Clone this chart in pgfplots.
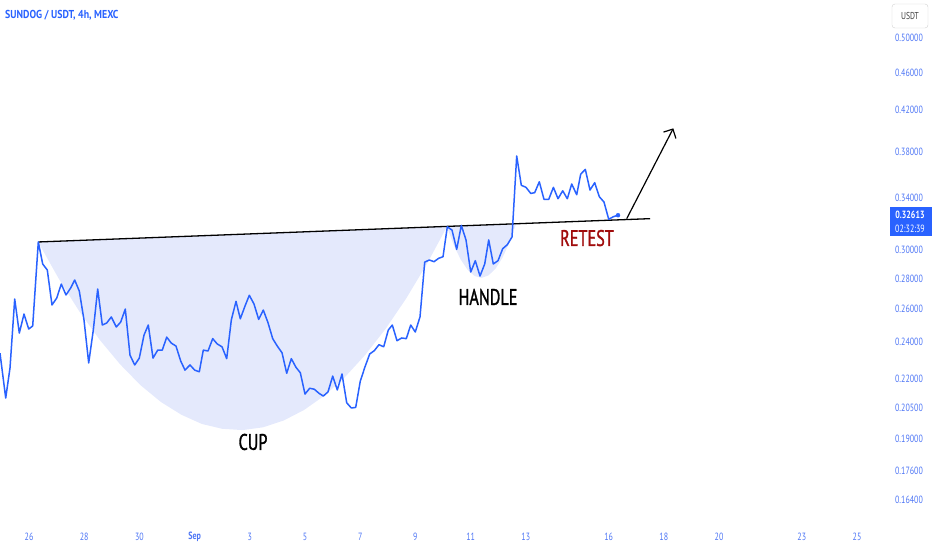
\documentclass[border=0pt]{standalone}
\usepackage{fontspec}
\setmainfont{PT Sans}
\newfontfamily\cond{PT Sans}[FakeStretch=0.86]
\newfontfamily\tickf{PT Sans}[FakeStretch=0.76]
\newfontfamily\lab{PT Sans}[FakeStretch=0.72, FakeBold=1.3]
\usepackage{pgfplots}
\pgfplotsset{compat=1.18}
\usetikzlibrary{arrows.meta}
\definecolor{pblue}{RGB}{41,98,255}
\definecolor{tickblue}{RGB}{78,118,245}
\definecolor{cupfill}{RGB}{228,233,252}
\definecolor{retest}{RGB}{160,12,12}
\pgfplotstableread{
d p
-1.051 0.2338
-0.844 0.2098
-0.688 0.2256
-0.518 0.2664
-0.351 0.2454
-0.181 0.2569
-0.011 0.2478
0.134 0.2496
0.337 0.3057
0.496 0.2899
0.663 0.2857
0.833 0.2626
1.004 0.2670
1.170 0.2762
1.341 0.2690
1.511 0.2736
1.656 0.2789
1.822 0.2716
1.993 0.2532
2.163 0.2283
2.330 0.2472
2.489 0.2729
2.656 0.2502
2.815 0.2514
2.982 0.2551
3.163 0.2490
3.322 0.2520
3.489 0.2600
3.659 0.2327
3.830 0.2272
3.996 0.2310
4.167 0.2442
4.322 0.2502
4.493 0.2310
4.663 0.2355
4.830 0.2355
4.989 0.2430
5.156 0.2395
5.326 0.2378
5.496 0.2294
5.652 0.2244
5.833 0.2272
6.004 0.2244
6.170 0.2235
6.315 0.2355
6.486 0.2350
6.656 0.2421
6.822 0.2390
6.993 0.2374
7.163 0.2307
7.330 0.2532
7.500 0.2649
7.656 0.2540
7.826 0.2619
7.982 0.2688
8.152 0.2632
8.322 0.2536
8.489 0.2594
8.659 0.2516
8.830 0.2421
8.996 0.2378
9.167 0.2340
9.337 0.2227
9.504 0.2307
9.674 0.2259
9.830 0.2230
10.000 0.2118
10.170 0.2148
10.337 0.2143
10.507 0.2122
10.663 0.2108
10.833 0.2129
11.004 0.2212
11.170 0.2139
11.341 0.2223
11.511 0.2074
11.678 0.2048
11.837 0.2051
12.004 0.2186
12.174 0.2262
12.344 0.2333
12.511 0.2352
12.681 0.2386
12.851 0.2374
13.018 0.2472
13.163 0.2502
13.333 0.2409
13.504 0.2425
13.670 0.2421
13.830 0.2502
13.996 0.2460
14.167 0.2552
14.337 0.2912
14.504 0.2927
14.674 0.2915
14.844 0.2939
15.000 0.2950
15.156 0.3171
15.326 0.3146
15.496 0.3003
15.663 0.3182
15.833 0.3072
16.004 0.2843
16.170 0.2922
16.341 0.2816
16.511 0.2899
16.656 0.3072
16.822 0.2899
16.993 0.2922
17.163 0.3008
17.330 0.3037
17.500 0.3094
17.670 0.3762
17.837 0.3505
18.007 0.3488
18.178 0.3437
18.322 0.3443
18.489 0.3535
18.659 0.3388
18.830 0.3388
19.000 0.3488
19.167 0.3393
19.337 0.3459
19.504 0.3393
19.663 0.3516
19.844 0.3426
19.989 0.3601
20.156 0.3642
20.326 0.3465
20.496 0.3527
20.663 0.3410
20.833 0.3366
21.004 0.3229
21.170 0.3249
21.341 0.3261
}\price
\pgfplotstableread{
d p
0.337 0.3055
1.078 0.2798
1.818 0.2587
2.558 0.2415
3.299 0.2276
4.039 0.2164
4.779 0.2078
5.520 0.2015
6.260 0.1971
7.000 0.1948
7.741 0.1942
8.481 0.1955
9.222 0.1987
9.962 0.2038
10.703 0.2110
11.443 0.2206
12.183 0.2328
12.924 0.2480
13.664 0.2667
14.405 0.2895
15.145 0.3173
}\cup
\pgfplotstableread{
d p
15.138 0.3173
15.389 0.3034
15.641 0.2930
15.892 0.2858
16.144 0.2816
16.395 0.2803
16.647 0.2820
16.898 0.2865
17.149 0.2941
17.401 0.3050
17.652 0.3196
}\handle
\begin{document}
\begin{tikzpicture}
\begin{axis}[
  at={(0pt,0pt)}, anchor=south west,
  scale only axis, width=885pt, height=550pt,
  xmin=-1.0507, xmax=31.014,
  ymode=log, ymin=0.1454, ymax=0.5480,
  axis line style={draw=none},
  major tick length=0pt, minor tick length=0pt,
  clip=false,
  xtick={0,2,4,6,8,10,12,14,16,18,21,23,25,28,30},
  xticklabels={26,28,30,\bfseries Sep,3,5,7,9,11,13,16,18,20,23,25},
  xticklabel style={anchor=center, yshift=13pt, font=\tickf\fontsize{10.5}{11}\selectfont, text=tickblue},
  ytick={0.164,0.176,0.19,0.205,0.22,0.24,0.26,0.28,0.30,0.34,0.38,0.42,0.46,0.50},
  yticklabels={0.16400,0.17600,0.19000,0.20500,0.22000,0.24000,0.26000,0.28000,0.30000,0.34000,0.38000,0.42000,0.46000,0.50000},
  yticklabel pos=right,
  yticklabel style={anchor=center, xshift=24pt, font=\tickf\fontsize{10.5}{11}\selectfont, text=tickblue},
]
\addplot[fill=cupfill, draw=none] table[x=d,y=p] {\cup} -- cycle;
\addplot[fill=cupfill, draw=none] table[x=d,y=p] {\handle} -- cycle;
\addplot[black, line width=1.3pt] coordinates {(0.337,0.3057) (22.5,0.3234)};
\addplot[pblue, line width=1.5pt, line join=round] table[x=d,y=p] {\price};
\addplot[pblue, only marks, mark=*, mark size=2pt] coordinates {(21.341,0.3261)};
\addplot[black, line width=1.2pt, -{Straight Barb[length=7pt,width=14pt,line width=1.2pt]}] coordinates {(21.656,0.3234) (23.344,0.4021)};
\node[font=\lab\fontsize{22.5}{23}\selectfont] at (axis cs:8.116,0.1887) {CUP};
\node[font=\lab\fontsize{22.5}{23}\selectfont] at (axis cs:16.630,0.2677) {HANDLE};
\node[font=\lab\fontsize{22.5}{23}\selectfont, text=retest] at (axis cs:20.217,0.3086) {RETEST};
\end{axis}
\node[anchor=west, font=\cond\bfseries\fontsize{11.5}{12}\selectfont, text=pblue, inner sep=0pt] at (5pt,535pt) {SUNDOG / USDT, 4h, MEXC};
\draw[draw=black!18, fill=white, rounded corners=3pt] (892pt,522pt) rectangle (928pt,546pt);
\node[font=\tickf\fontsize{10}{11}\selectfont, text=black!75] at (910pt,534pt) {USDT};
\fill[pblue] (890pt,314pt) rectangle (932pt,343pt);
\node[font=\tickf\bfseries\fontsize{10.5}{11}\selectfont, text=white, inner sep=0pt] at (910pt,335pt) {0.32613};
\node[font=\tickf\fontsize{10.5}{11}\selectfont, text=white, inner sep=0pt] at (910pt,321pt) {02:32:39};
\pgfresetboundingbox
\path (0pt,0pt) rectangle (932pt,550pt);
\end{tikzpicture}
\end{document}
